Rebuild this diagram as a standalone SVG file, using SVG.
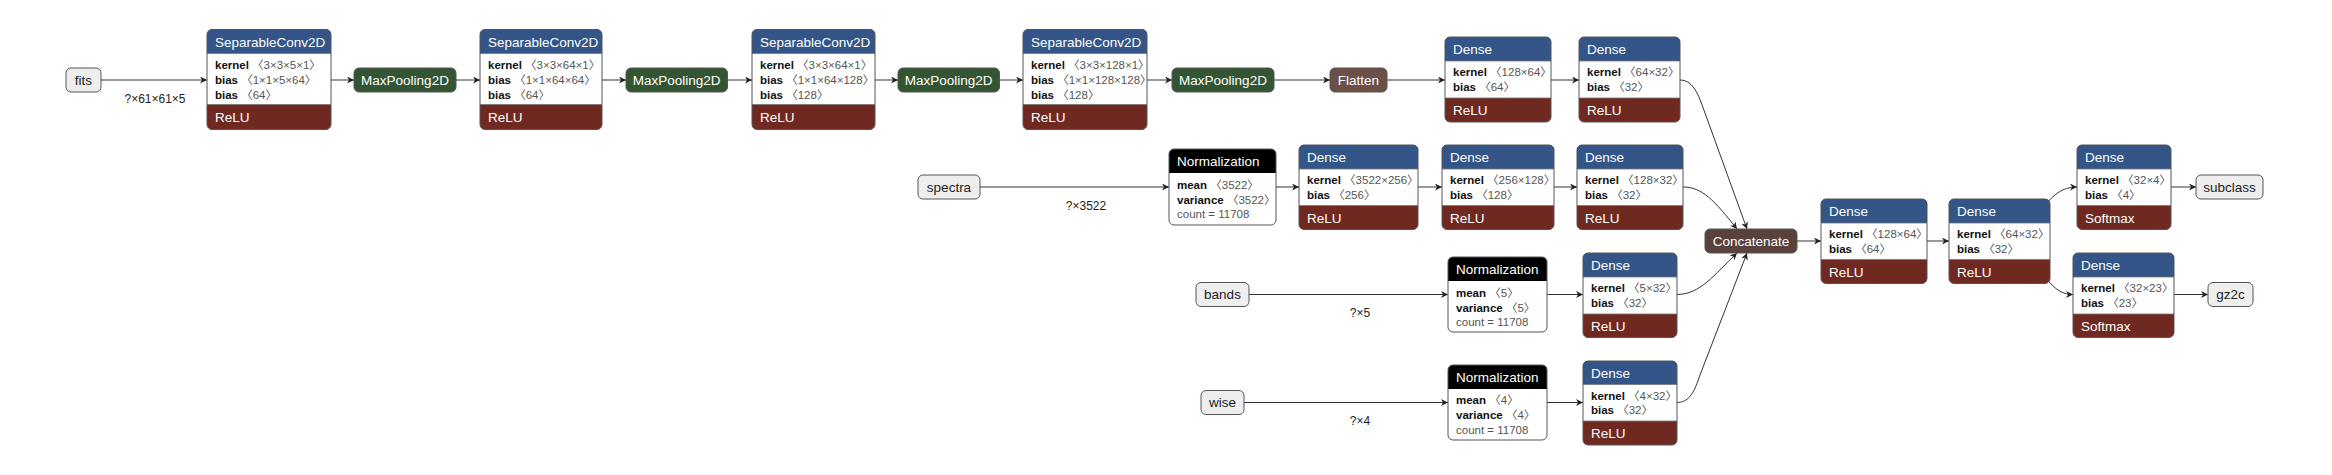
<svg xmlns="http://www.w3.org/2000/svg" width="2332" height="475" viewBox="0 0 2332 475">
<style>
text{font-family:"Liberation Sans",Arial,"Noto Sans CJK SC",sans-serif}
.lay{fill:#335588}
.pool{fill:#335533}
.act{fill:#702921}
.norm{fill:#000}
.shape{fill:#6c4f47}
.tensor{fill:#59423b}
.inp{fill:#eeeeee}
.body{fill:#fff}
.bd{fill:none;stroke:#555;stroke-width:1}
.sep{stroke:#777;stroke-width:0.8}
.ht{font-size:13.5px;fill:#fff}
.ct{font-size:13.5px;fill:#fff;text-anchor:middle}
.it{font-size:13.5px;fill:#222;text-anchor:middle}
.at{font-size:11.5px}
.k{font-weight:bold;fill:#111}
.v{fill:#555}
.c{fill:#555}
.lbl{font-size:12px;fill:#222;text-anchor:middle}
.e{fill:none;stroke:#333;stroke-width:1;marker-end:url(#arr)}
</style>
<defs>
<marker id="arr" viewBox="0 0 10 10" refX="10" refY="5" markerWidth="7" markerHeight="7" markerUnits="userSpaceOnUse" orient="auto">
<path d="M0,0 L10,5 L0,10 L3,5 z" fill="#222"/>
</marker>
</defs>
<rect width="2332" height="475" fill="#fff"/>

<g id="edges">
<path class="e" d="M101,80 H207"/>
<path class="e" d="M331,80 H354"/>
<path class="e" d="M456,80 H480"/>
<path class="e" d="M602,80 H626"/>
<path class="e" d="M727.5,80 H752"/>
<path class="e" d="M875,80 H898"/>
<path class="e" d="M999.5,80 H1023"/>
<path class="e" d="M1147,80 H1172"/>
<path class="e" d="M1274,80 H1330"/>
<path class="e" d="M1387,80 H1445"/>
<path class="e" d="M1551,80 H1579"/>
<path class="e" d="M1680,80 C1695,80 1700,100 1705,113 L1747,229"/>
<path class="e" d="M980,187 H1169"/>
<path class="e" d="M1276,187 H1299"/>
<path class="e" d="M1418,187 H1442"/>
<path class="e" d="M1554,187 H1577"/>
<path class="e" d="M1683,187 C1702,187 1714,200 1737,229"/>
<path class="e" d="M1249,294.5 H1448"/>
<path class="e" d="M1547,294.5 H1583"/>
<path class="e" d="M1677,294.5 C1700,294.5 1714,275 1737,253"/>
<path class="e" d="M1244,402.5 H1448"/>
<path class="e" d="M1547,402.5 H1583"/>
<path class="e" d="M1677,402.5 C1690,402.5 1695,390 1700,375 L1747,253"/>
<path class="e" d="M1797,241 H1821"/>
<path class="e" d="M1927,241 H1949"/>
<path class="e" d="M2040,212 C2052,195 2062,187 2077,187"/>
<path class="e" d="M2040,270 C2052,287 2060,294.5 2073,294.5"/>
<path class="e" d="M2171,187 H2196"/>
<path class="e" d="M2174,294.5 H2208"/>
<text class="lbl" x="155" y="103">?×61×61×5</text>
<text class="lbl" x="1086" y="210">?×3522</text>
<text class="lbl" x="1360" y="317">?×5</text>
<text class="lbl" x="1360" y="425">?×4</text>
</g>

<g id="fits"><rect x="66" y="68" width="35" height="24" rx="5" class="inp"/><rect x="66" y="68" width="35" height="24" rx="5" class="bd"/><text class="it" x="83.5" y="84.5">fits</text></g>

<g id="sepconv1">
<rect x="207" y="29.5" width="124" height="100" rx="5" class="act"/>
<rect x="207" y="29.5" width="124" height="34" rx="5" class="lay"/>
<rect x="207" y="53.5" width="124" height="51" class="body"/>
<line x1="207" y1="53.5" x2="331" y2="53.5" class="sep"/><line x1="207" y1="104.5" x2="331" y2="104.5" class="sep"/>
<rect x="207" y="29.5" width="124" height="100" rx="5" class="bd"/>
<text class="ht" x="215" y="46.5">SeparableConv2D</text>
<text class="at" x="215" y="68.5"><tspan class="k">kernel</tspan><tspan class="v"> 〈3×3×5×1〉</tspan></text>
<text class="at" x="215" y="84"><tspan class="k">bias</tspan><tspan class="v"> 〈1×1×5×64〉</tspan></text>
<text class="at" x="215" y="99"><tspan class="k">bias</tspan><tspan class="v"> 〈64〉</tspan></text>
<text class="ht" x="215" y="122">ReLU</text>
</g>
<g id="maxpool1"><rect x="354" y="68" width="102" height="24" rx="5" class="pool"/><rect x="354" y="68" width="102" height="24" rx="5" class="bd"/><text class="ct" x="405" y="84.5">MaxPooling2D</text></g>

<g id="sepconv2">
<rect x="480" y="29.5" width="122" height="100" rx="5" class="act"/>
<rect x="480" y="29.5" width="122" height="34" rx="5" class="lay"/>
<rect x="480" y="53.5" width="122" height="51" class="body"/>
<line x1="480" y1="53.5" x2="602" y2="53.5" class="sep"/><line x1="480" y1="104.5" x2="602" y2="104.5" class="sep"/>
<rect x="480" y="29.5" width="122" height="100" rx="5" class="bd"/>
<text class="ht" x="488" y="46.5">SeparableConv2D</text>
<text class="at" x="488" y="68.5"><tspan class="k">kernel</tspan><tspan class="v"> 〈3×3×64×1〉</tspan></text>
<text class="at" x="488" y="84"><tspan class="k">bias</tspan><tspan class="v"> 〈1×1×64×64〉</tspan></text>
<text class="at" x="488" y="99"><tspan class="k">bias</tspan><tspan class="v"> 〈64〉</tspan></text>
<text class="ht" x="488" y="122">ReLU</text>
</g>
<g id="maxpool2"><rect x="626" y="68" width="101.5" height="24" rx="5" class="pool"/><rect x="626" y="68" width="101.5" height="24" rx="5" class="bd"/><text class="ct" x="676.7" y="84.5">MaxPooling2D</text></g>

<g id="sepconv3">
<rect x="752" y="29.5" width="123" height="100" rx="5" class="act"/>
<rect x="752" y="29.5" width="123" height="34" rx="5" class="lay"/>
<rect x="752" y="53.5" width="123" height="51" class="body"/>
<line x1="752" y1="53.5" x2="875" y2="53.5" class="sep"/><line x1="752" y1="104.5" x2="875" y2="104.5" class="sep"/>
<rect x="752" y="29.5" width="123" height="100" rx="5" class="bd"/>
<text class="ht" x="760" y="46.5">SeparableConv2D</text>
<text class="at" x="760" y="68.5"><tspan class="k">kernel</tspan><tspan class="v"> 〈3×3×64×1〉</tspan></text>
<text class="at" x="760" y="84"><tspan class="k">bias</tspan><tspan class="v"> 〈1×1×64×128〉</tspan></text>
<text class="at" x="760" y="99"><tspan class="k">bias</tspan><tspan class="v"> 〈128〉</tspan></text>
<text class="ht" x="760" y="122">ReLU</text>
</g>
<g id="maxpool3"><rect x="898" y="68" width="101.5" height="24" rx="5" class="pool"/><rect x="898" y="68" width="101.5" height="24" rx="5" class="bd"/><text class="ct" x="948.7" y="84.5">MaxPooling2D</text></g>

<g id="sepconv4">
<rect x="1023" y="29.5" width="124" height="100" rx="5" class="act"/>
<rect x="1023" y="29.5" width="124" height="34" rx="5" class="lay"/>
<rect x="1023" y="53.5" width="124" height="51" class="body"/>
<line x1="1023" y1="53.5" x2="1147" y2="53.5" class="sep"/><line x1="1023" y1="104.5" x2="1147" y2="104.5" class="sep"/>
<rect x="1023" y="29.5" width="124" height="100" rx="5" class="bd"/>
<text class="ht" x="1031" y="46.5">SeparableConv2D</text>
<text class="at" x="1031" y="68.5"><tspan class="k">kernel</tspan><tspan class="v"> 〈3×3×128×1〉</tspan></text>
<text class="at" x="1031" y="84"><tspan class="k">bias</tspan><tspan class="v"> 〈1×1×128×128〉</tspan></text>
<text class="at" x="1031" y="99"><tspan class="k">bias</tspan><tspan class="v"> 〈128〉</tspan></text>
<text class="ht" x="1031" y="122">ReLU</text>
</g>
<g id="maxpool4"><rect x="1172" y="68" width="102" height="24" rx="5" class="pool"/><rect x="1172" y="68" width="102" height="24" rx="5" class="bd"/><text class="ct" x="1223" y="84.5">MaxPooling2D</text></g>

<g id="flatten"><rect x="1330" y="68" width="57" height="24" rx="5" class="shape"/><rect x="1330" y="68" width="57" height="24" rx="5" class="bd"/><text class="ct" x="1358.5" y="84.5">Flatten</text></g>

<g id="dense_a">
<rect x="1445" y="37" width="106" height="85" rx="5" class="act"/>
<rect x="1445" y="37" width="106" height="34" rx="5" class="lay"/>
<rect x="1445" y="61" width="106" height="37" class="body"/>
<line x1="1445" y1="61" x2="1551" y2="61" class="sep"/><line x1="1445" y1="98" x2="1551" y2="98" class="sep"/>
<rect x="1445" y="37" width="106" height="85" rx="5" class="bd"/>
<text class="ht" x="1453" y="54">Dense</text>
<text class="at" x="1453" y="76"><tspan class="k">kernel</tspan><tspan class="v"> 〈128×64〉</tspan></text>
<text class="at" x="1453" y="91"><tspan class="k">bias</tspan><tspan class="v"> 〈64〉</tspan></text>
<text class="ht" x="1453" y="115">ReLU</text>
</g>
<g id="dense_b">
<rect x="1579" y="37" width="101" height="85" rx="5" class="act"/>
<rect x="1579" y="37" width="101" height="34" rx="5" class="lay"/>
<rect x="1579" y="61" width="101" height="37" class="body"/>
<line x1="1579" y1="61" x2="1680" y2="61" class="sep"/><line x1="1579" y1="98" x2="1680" y2="98" class="sep"/>
<rect x="1579" y="37" width="101" height="85" rx="5" class="bd"/>
<text class="ht" x="1587" y="54">Dense</text>
<text class="at" x="1587" y="76"><tspan class="k">kernel</tspan><tspan class="v"> 〈64×32〉</tspan></text>
<text class="at" x="1587" y="91"><tspan class="k">bias</tspan><tspan class="v"> 〈32〉</tspan></text>
<text class="ht" x="1587" y="115">ReLU</text>
</g>

<g id="spectra"><rect x="918" y="175" width="62" height="24" rx="5" class="inp"/><rect x="918" y="175" width="62" height="24" rx="5" class="bd"/><text class="it" x="949" y="191.5">spectra</text></g>

<g id="norm1">
<rect x="1169" y="149" width="107" height="76" rx="5" class="body"/>
<rect x="1169" y="149" width="107" height="34" rx="5" class="norm"/>
<rect x="1169" y="173" width="107" height="40" class="body"/>
<rect x="1169" y="149" width="107" height="76" rx="5" class="bd"/>
<text class="ht" x="1177" y="166">Normalization</text>
<text class="at" x="1177" y="188.5"><tspan class="k">mean</tspan><tspan class="v"> 〈3522〉</tspan></text>
<text class="at" x="1177" y="203.5"><tspan class="k">variance</tspan><tspan class="v"> 〈3522〉</tspan></text>
<text class="at c" x="1177" y="218">count = 11708</text>
</g>
<g id="dense_c">
<rect x="1299" y="145" width="119" height="84.5" rx="5" class="act"/>
<rect x="1299" y="145" width="119" height="34" rx="5" class="lay"/>
<rect x="1299" y="169" width="119" height="36.5" class="body"/>
<line x1="1299" y1="169" x2="1418" y2="169" class="sep"/><line x1="1299" y1="205.5" x2="1418" y2="205.5" class="sep"/>
<rect x="1299" y="145" width="119" height="84.5" rx="5" class="bd"/>
<text class="ht" x="1307" y="162">Dense</text>
<text class="at" x="1307" y="184"><tspan class="k">kernel</tspan><tspan class="v"> 〈3522×256〉</tspan></text>
<text class="at" x="1307" y="199"><tspan class="k">bias</tspan><tspan class="v"> 〈256〉</tspan></text>
<text class="ht" x="1307" y="222.5">ReLU</text>
</g>
<g id="dense_d">
<rect x="1442" y="145" width="112" height="84.5" rx="5" class="act"/>
<rect x="1442" y="145" width="112" height="34" rx="5" class="lay"/>
<rect x="1442" y="169" width="112" height="36.5" class="body"/>
<line x1="1442" y1="169" x2="1554" y2="169" class="sep"/><line x1="1442" y1="205.5" x2="1554" y2="205.5" class="sep"/>
<rect x="1442" y="145" width="112" height="84.5" rx="5" class="bd"/>
<text class="ht" x="1450" y="162">Dense</text>
<text class="at" x="1450" y="184"><tspan class="k">kernel</tspan><tspan class="v"> 〈256×128〉</tspan></text>
<text class="at" x="1450" y="199"><tspan class="k">bias</tspan><tspan class="v"> 〈128〉</tspan></text>
<text class="ht" x="1450" y="222.5">ReLU</text>
</g>
<g id="dense_e">
<rect x="1577" y="145" width="106" height="84.5" rx="5" class="act"/>
<rect x="1577" y="145" width="106" height="34" rx="5" class="lay"/>
<rect x="1577" y="169" width="106" height="36.5" class="body"/>
<line x1="1577" y1="169" x2="1683" y2="169" class="sep"/><line x1="1577" y1="205.5" x2="1683" y2="205.5" class="sep"/>
<rect x="1577" y="145" width="106" height="84.5" rx="5" class="bd"/>
<text class="ht" x="1585" y="162">Dense</text>
<text class="at" x="1585" y="184"><tspan class="k">kernel</tspan><tspan class="v"> 〈128×32〉</tspan></text>
<text class="at" x="1585" y="199"><tspan class="k">bias</tspan><tspan class="v"> 〈32〉</tspan></text>
<text class="ht" x="1585" y="222.5">ReLU</text>
</g>

<g id="bands"><rect x="1196" y="282.5" width="53" height="24" rx="5" class="inp"/><rect x="1196" y="282.5" width="53" height="24" rx="5" class="bd"/><text class="it" x="1222.5" y="299">bands</text></g>
<g id="norm2">
<rect x="1448" y="257" width="99" height="75" rx="5" class="body"/>
<rect x="1448" y="257" width="99" height="34" rx="5" class="norm"/>
<rect x="1448" y="281" width="99" height="40" class="body"/>
<rect x="1448" y="257" width="99" height="75" rx="5" class="bd"/>
<text class="ht" x="1456" y="274">Normalization</text>
<text class="at" x="1456" y="296.5"><tspan class="k">mean</tspan><tspan class="v"> 〈5〉</tspan></text>
<text class="at" x="1456" y="311.5"><tspan class="k">variance</tspan><tspan class="v"> 〈5〉</tspan></text>
<text class="at c" x="1456" y="326">count = 11708</text>
</g>
<g id="dense_j">
<rect x="1583" y="253" width="94" height="84.5" rx="5" class="act"/>
<rect x="1583" y="253" width="94" height="34" rx="5" class="lay"/>
<rect x="1583" y="277" width="94" height="37" class="body"/>
<line x1="1583" y1="277" x2="1677" y2="277" class="sep"/><line x1="1583" y1="314" x2="1677" y2="314" class="sep"/>
<rect x="1583" y="253" width="94" height="84.5" rx="5" class="bd"/>
<text class="ht" x="1591" y="270">Dense</text>
<text class="at" x="1591" y="292"><tspan class="k">kernel</tspan><tspan class="v"> 〈5×32〉</tspan></text>
<text class="at" x="1591" y="306.5"><tspan class="k">bias</tspan><tspan class="v"> 〈32〉</tspan></text>
<text class="ht" x="1591" y="330.5">ReLU</text>
</g>

<g id="wise"><rect x="1201" y="390.5" width="43" height="24" rx="5" class="inp"/><rect x="1201" y="390.5" width="43" height="24" rx="5" class="bd"/><text class="it" x="1222.5" y="407">wise</text></g>
<g id="norm3">
<rect x="1448" y="365" width="99" height="75" rx="5" class="body"/>
<rect x="1448" y="365" width="99" height="34" rx="5" class="norm"/>
<rect x="1448" y="389" width="99" height="40" class="body"/>
<rect x="1448" y="365" width="99" height="75" rx="5" class="bd"/>
<text class="ht" x="1456" y="382">Normalization</text>
<text class="at" x="1456" y="404"><tspan class="k">mean</tspan><tspan class="v"> 〈4〉</tspan></text>
<text class="at" x="1456" y="419"><tspan class="k">variance</tspan><tspan class="v"> 〈4〉</tspan></text>
<text class="at c" x="1456" y="434">count = 11708</text>
</g>
<g id="dense_k">
<rect x="1583" y="361" width="94" height="84" rx="5" class="act"/>
<rect x="1583" y="361" width="94" height="34" rx="5" class="lay"/>
<rect x="1583" y="384.5" width="94" height="36.5" class="body"/>
<line x1="1583" y1="384.5" x2="1677" y2="384.5" class="sep"/><line x1="1583" y1="421" x2="1677" y2="421" class="sep"/>
<rect x="1583" y="361" width="94" height="84" rx="5" class="bd"/>
<text class="ht" x="1591" y="378">Dense</text>
<text class="at" x="1591" y="399.5"><tspan class="k">kernel</tspan><tspan class="v"> 〈4×32〉</tspan></text>
<text class="at" x="1591" y="414"><tspan class="k">bias</tspan><tspan class="v"> 〈32〉</tspan></text>
<text class="ht" x="1591" y="438">ReLU</text>
</g>

<g id="concatenate"><rect x="1705" y="229" width="92" height="24" rx="5" class="tensor"/><rect x="1705" y="229" width="92" height="24" rx="5" class="bd"/><text class="ct" x="1751" y="245.5">Concatenate</text></g>

<g id="dense_f">
<rect x="1821" y="199" width="106" height="84.5" rx="5" class="act"/>
<rect x="1821" y="199" width="106" height="34" rx="5" class="lay"/>
<rect x="1821" y="223" width="106" height="36.5" class="body"/>
<line x1="1821" y1="223" x2="1927" y2="223" class="sep"/><line x1="1821" y1="259.5" x2="1927" y2="259.5" class="sep"/>
<rect x="1821" y="199" width="106" height="84.5" rx="5" class="bd"/>
<text class="ht" x="1829" y="216">Dense</text>
<text class="at" x="1829" y="238"><tspan class="k">kernel</tspan><tspan class="v"> 〈128×64〉</tspan></text>
<text class="at" x="1829" y="253"><tspan class="k">bias</tspan><tspan class="v"> 〈64〉</tspan></text>
<text class="ht" x="1829" y="276.5">ReLU</text>
</g>
<g id="dense_g">
<rect x="1949" y="199" width="101" height="84.5" rx="5" class="act"/>
<rect x="1949" y="199" width="101" height="34" rx="5" class="lay"/>
<rect x="1949" y="223" width="101" height="36.5" class="body"/>
<line x1="1949" y1="223" x2="2050" y2="223" class="sep"/><line x1="1949" y1="259.5" x2="2050" y2="259.5" class="sep"/>
<rect x="1949" y="199" width="101" height="84.5" rx="5" class="bd"/>
<text class="ht" x="1957" y="216">Dense</text>
<text class="at" x="1957" y="238"><tspan class="k">kernel</tspan><tspan class="v"> 〈64×32〉</tspan></text>
<text class="at" x="1957" y="253"><tspan class="k">bias</tspan><tspan class="v"> 〈32〉</tspan></text>
<text class="ht" x="1957" y="276.5">ReLU</text>
</g>
<g id="dense_h">
<rect x="2077" y="145" width="94" height="84.5" rx="5" class="act"/>
<rect x="2077" y="145" width="94" height="34" rx="5" class="lay"/>
<rect x="2077" y="169" width="94" height="36.5" class="body"/>
<line x1="2077" y1="169" x2="2171" y2="169" class="sep"/><line x1="2077" y1="205.5" x2="2171" y2="205.5" class="sep"/>
<rect x="2077" y="145" width="94" height="84.5" rx="5" class="bd"/>
<text class="ht" x="2085" y="162">Dense</text>
<text class="at" x="2085" y="184"><tspan class="k">kernel</tspan><tspan class="v"> 〈32×4〉</tspan></text>
<text class="at" x="2085" y="199"><tspan class="k">bias</tspan><tspan class="v"> 〈4〉</tspan></text>
<text class="ht" x="2085" y="222.5">Softmax</text>
</g>
<g id="dense_i">
<rect x="2073" y="253" width="101" height="84.5" rx="5" class="act"/>
<rect x="2073" y="253" width="101" height="34" rx="5" class="lay"/>
<rect x="2073" y="277" width="101" height="37" class="body"/>
<line x1="2073" y1="277" x2="2174" y2="277" class="sep"/><line x1="2073" y1="314" x2="2174" y2="314" class="sep"/>
<rect x="2073" y="253" width="101" height="84.5" rx="5" class="bd"/>
<text class="ht" x="2081" y="270">Dense</text>
<text class="at" x="2081" y="292"><tspan class="k">kernel</tspan><tspan class="v"> 〈32×23〉</tspan></text>
<text class="at" x="2081" y="306.5"><tspan class="k">bias</tspan><tspan class="v"> 〈23〉</tspan></text>
<text class="ht" x="2081" y="330.5">Softmax</text>
</g>
<g id="subclass"><rect x="2196" y="175" width="67" height="24" rx="5" class="inp"/><rect x="2196" y="175" width="67" height="24" rx="5" class="bd"/><text class="it" x="2229.5" y="191.5">subclass</text></g>
<g id="gz2c"><rect x="2208" y="282.5" width="45" height="24" rx="5" class="inp"/><rect x="2208" y="282.5" width="45" height="24" rx="5" class="bd"/><text class="it" x="2230.5" y="299">gz2c</text></g>
</svg>
